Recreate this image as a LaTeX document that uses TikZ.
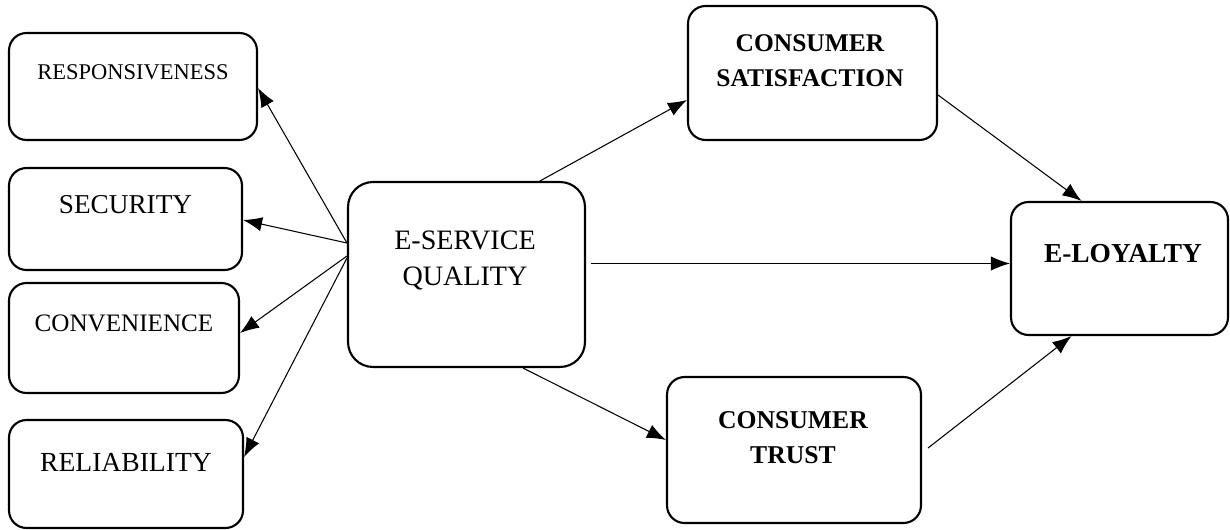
\documentclass[tikz,border=0pt]{standalone}
\usepackage{fontspec}
\setmainfont{Liberation Serif}
\usetikzlibrary{positioning,arrows.meta,calc}
\tikzset{>={Latex[scale=1.9]}}
\tikzset{
  box/.style={draw, line width=1.2pt, rounded corners=0.35cm, inner sep=0pt},
  link/.style={->, line width=0.6pt}
}

\begin{document}
\begin{tikzpicture}[x=0.02cm, y=-0.02cm]
        \useasboundingbox (0,0) rectangle (1230,530);
        % dimensions
        \node[box, minimum width=4.96cm, minimum height=2.14cm] (resp) at (133,86.5) {};
        \node[box, minimum width=4.66cm, minimum height=2.04cm] (sec) at (125.5,219) {};
        \node[box, minimum width=4.6cm, minimum height=2.2cm] (conv) at (124,338) {};
        \node[box, minimum width=4.68cm, minimum height=2.16cm] (rel) at (126,474) {};
        % core constructs
        \node[box, rounded corners=0.5cm, minimum width=4.74cm, minimum height=3.7cm] (esq) at (466.5,274.5) {};
        \node[box, minimum width=4.98cm, minimum height=2.68cm] (sat) at (812.5,73) {};
        \node[box, minimum width=4.34cm, minimum height=2.66cm] (loy) at (1119.5,268.5) {};
        \node[box, minimum width=5.08cm, minimum height=2.92cm] (tru) at (794,450) {};

        \node[font=\fontsize{12.8}{15}\selectfont] (resplabel) at (133,72) {RESPONSIVENESS};
        \node[font=\fontsize{15.5}{18}\selectfont] (seclabel) at (125.5,205) {SECURITY};
        \node[font=\fontsize{14.3}{17}\selectfont] (convlabel) at (124,323) {CONVENIENCE};
        \node[font=\fontsize{15.7}{18}\selectfont] (rellabel) at (126,462) {RELIABILITY};
        \node[font=\fontsize{16}{20.5}\selectfont, align=center] (esqlabel) at (465,260) {E-SERVICE\\QUALITY};
        \node[font=\fontsize{14.5}{20}\selectfont\bfseries, align=center] (satlabel) at (810,60.5) {CONSUMER\\SATISFACTION};
        \node[font=\fontsize{15.6}{18}\selectfont\bfseries] (loylabel) at (1123,254) {E-LOYALTY};
        \node[font=\fontsize{14.6}{20}\selectfont\bfseries, align=center] (trulabel) at (793,437.5) {CONSUMER\\TRUST};

        \path[link]
        ([yshift=0.63cm]esq.west) edge ([yshift=-0.03cm]resp.east)
        ([yshift=0.63cm]esq.west) edge ([yshift=-0.02cm]sec.east)
        ([yshift=0.37cm]esq.west) edge ([yshift=0.1cm]conv.east)
        ([yshift=0.33cm]esq.west) edge ([yshift=0.34cm]rel.east)
        ([xshift=1.47cm]esq.north) edge ([yshift=-0.54cm]sat.west)
        ([xshift=0.1cm,yshift=0.22cm]esq.east) edge ([yshift=0.22cm]esq.east -| loy.west)
        ([xshift=1.13cm]esq.south) edge ([yshift=0.2cm]tru.west)
        ([yshift=-0.44cm]sat.east) edge ([xshift=-0.76cm]loy.north)
        ([xshift=0.12cm,yshift=0.04cm]tru.east) edge ([xshift=-0.96cm]loy.south);
      \end{tikzpicture}
\end{document}
